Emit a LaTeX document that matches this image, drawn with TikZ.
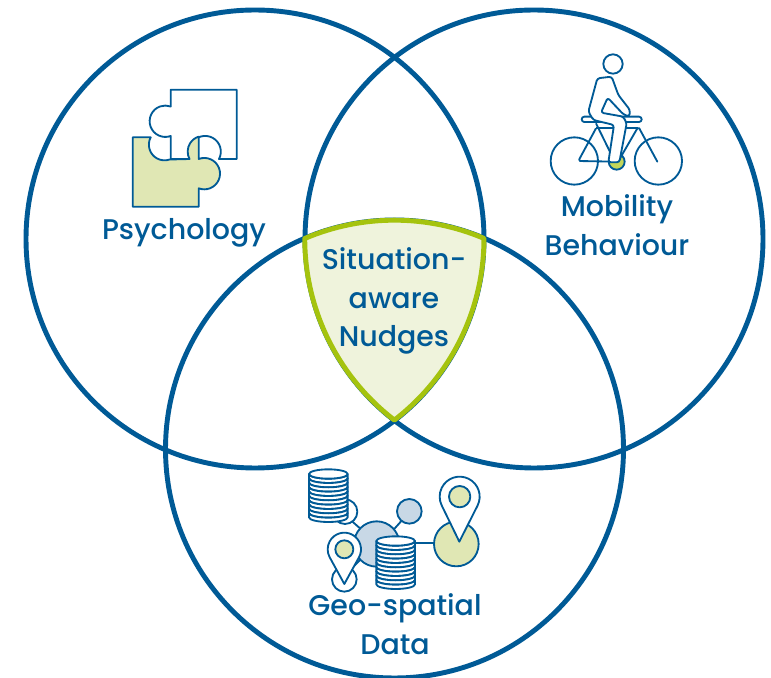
\documentclass[tikz,border=0pt]{standalone}
\usepackage{fontspec}
\setmainfont{Poppins Medium}
\definecolor{venn}{HTML}{005A96}
\definecolor{lime}{HTML}{A5C30E}
\definecolor{limepale}{HTML}{EFF3DC}
\definecolor{limesoft}{HTML}{E0E7B4}
\definecolor{limedot}{HTML}{C3D65A}
\definecolor{skysoft}{HTML}{C8D8E6}
\tikzset{
  lbl/.style={text=venn, align=center, font=\fontsize{16.2}{22}\selectfont},
  ring/.style={draw=venn, line width=2.8pt},
  icon/.style={draw=venn, line width=1.05pt, line join=round},
  dbstack/.pic={
    \foreach \y in {0,13,...,117}{
      \draw[icon, fill=white](-58,\y)arc[start angle=180, end angle=0, x radius=58, y radius=14]--(58,\y+13)arc[start angle=0, end angle=180, x radius=58, y radius=14]--cycle;
    }
    \draw[icon, fill=white](0,0)circle[x radius=58, y radius=14];
  }
}
\begin{document}
\begin{tikzpicture}[x=.02cm, y=-.02cm]
\useasboundingbox(0,0)rectangle(771,678);
\coordinate(cpsy)at(255,239);
\coordinate(cmob)at(534,239);
\coordinate(cgeo)at(394.5,449);
\draw[ring](cpsy)circle[radius=229];
\draw[ring](cmob)circle[radius=229];
\draw[ring](cgeo)circle[radius=229];
\draw[draw=lime, fill=limepale, line width=2.8pt, line join=round](305,238.4)arc[start angle=-113, end angle=-67, radius=229]arc[start angle=0, end angle=52.5, radius=229]arc[start angle=127.5, end angle=180, radius=229]--cycle;

\node[lbl](psy)at(184,233){Psychology};
\node[lbl](mob)at(617,225){Mobility\\Behaviour};
\node[lbl](nudge)at(394,301){Situation-\\aware\\Nudges};
\node[lbl](geo)at(395,624){Geo-spatial\\Data};

% puzzle
\draw[icon, fill=white](170.7,89.7)--(236.7,89.7)--(236.7,159)--(219,159)arc[start angle=28, end angle=-208, radius=15.7]--(170.7,159)--(170.7,136)arc[start angle=70, end angle=290, radius=15.7]--cycle;
\draw[icon, fill=limesoft](132.7,137.3)--(150.7,137.3)arc[start angle=208, end angle=71, radius=15.7]--(189.5,159)arc[start angle=152, end angle=253, radius=15.7]--(198.7,159)arc[start angle=-111, end angle=111, radius=15.7]--(198.7,206.7)--(132.7,206.7)--cycle;

% bike
\begin{scope}[shift={(540,45)}, scale=1/3]
\draw[icon](103,348)circle[radius=71];
\draw[icon](355,348)circle[radius=71];
\draw[icon, fill=limedot](230,350)circle[radius=24];
\draw[icon, line cap=round, rounded corners=1pt](352,350)--(295,245)--(240,340);
\draw[icon, rounded corners=1pt](168,250)--(115,348)--(225,350);
\draw[icon](168,250)--(295,250);
\draw[icon](168,235)--(222,345);
\draw[icon, fill=white, rounded corners=1.5pt](125,215)rectangle(305,231);
\draw[icon, fill=white](219,57)circle[radius=29];
\draw[icon, fill=white, rounded corners=1.5pt](205,352)--(222,240)--(160,225)--(145,200)--(172,100)--(215,95)--(235,150)--(270,195)--(268,215)--(250,208)--(203,158)--(183,203)--(250,215)--(260,235)--(238,352)--cycle;
\end{scope}

% geo data
\begin{scope}[shift={(295,460)}, scale=1/3]
\draw[icon](295,210)--(320,182);
\draw[icon](195,205)--(170,183);
\draw[icon](360,250)--(417,250);
\draw[icon](195,300)--(170,325);
\draw[icon, fill=white](150,155)circle[radius=37];
\draw[icon, fill=white](148,358)circle[radius=37];
\draw[icon, fill=skysoft](245,252)circle[radius=68];
\draw[icon, fill=skysoft](343,154)circle[radius=37];
\draw[icon, fill=limesoft](484,252)circle[radius=67];
\pic[scale=1/3] at(100,42){dbstack};
\pic[scale=1/3] at(302,243){dbstack};
\draw[icon, fill=white](493,245)--([shift={(26.4:60)}]494,110)arc[start angle=26.4, end angle=-206.4, radius=60]--cycle;
\draw[icon, fill=limesoft](494,110)circle[radius=32];
\draw[icon, fill=white](148,372)--([shift={(28.7:50)}]148,268)arc[start angle=28.7, end angle=-208.7, radius=50]--cycle;
\draw[icon, fill=limesoft](148,268)circle[radius=27];
\end{scope}
\end{tikzpicture}
\end{document}
